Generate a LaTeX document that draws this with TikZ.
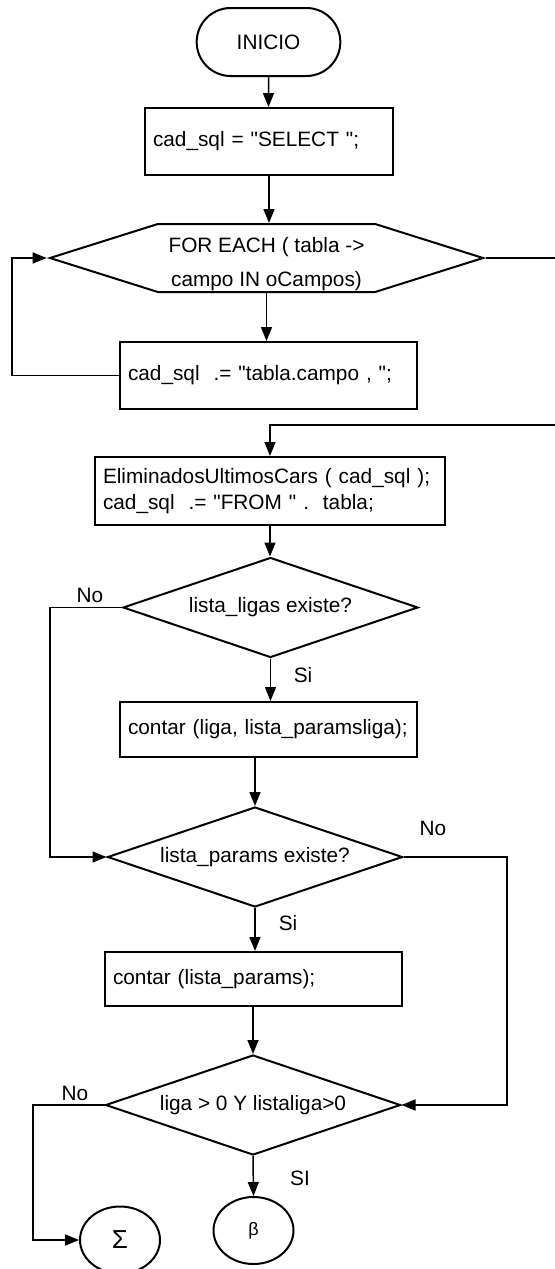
\documentclass[tikz,border=0pt]{standalone}
\usepackage{fontspec}
\newfontfamily\flujo{Liberation Sans}
\usetikzlibrary{shapes.geometric,shapes.misc,shapes.symbols,arrows.meta}

\begin{document}
\begin{tikzpicture}[x=0.5pt,y=-0.5pt,
  font=\flujo\fontsize{10.4}{13.3}\selectfont,
  shp/.style={draw, line width=1pt},
  proc/.style={shp, rectangle, inner sep=4pt, align=left},
  cond/.style={shp, diamond, aspect=2.95, inner sep=0pt, minimum width=147.5pt, minimum height=50pt},
  term/.style={shp, ellipse, inner sep=0pt, minimum width=40pt, minimum height=33.5pt},
  arr/.style={line width=0.75pt, -{Triangle[length=7pt,width=5.5pt]}},
  ln/.style={line width=0.75pt}]
  \useasboundingbox (0,0) rectangle (555,1269);

  \node[shp, rounded rectangle, minimum width=78.5pt, minimum height=34pt] (ini) at (268.5,42) {INICIO};
  \node[proc, text width=116pt, minimum height=33.5pt] (sel) at (269,141.5) {cad\_sql = "SELECT ";};
  \node[shp, signal, signal to=west and east, signal pointer angle=35, inner sep=0pt,
        minimum width=216.5pt, minimum height=34pt] (each) at (266.5,258)
        {\raisebox{-5.5pt}[0pt][0pt]{\begin{tabular}{@{}c@{}}FOR EACH ( tabla ->\\[3.5pt] campo IN oCampos)\end{tabular}}};
  \node[proc, text width=140.5pt, minimum height=33.5pt] (campo) at (268.5,375.5) {cad\_sql\ \ .= "tabla.campo , ";};
  \node[proc, text width=167pt, minimum height=34pt] (from) at (270,491)
        {EliminadosUltimosCars ( cad\_sql );\\ cad\_sql\ \ .= "FROM " .\ \ tabla;};
  \node[cond] (ligas) at (270.5,607.5) {lista\_ligas existe?};
  \node[proc, text width=140.5pt, minimum height=27.5pt] (cliga) at (268.5,729.5) {contar (liga, lista\_paramsliga);};
  \node[cond] (params) at (255,857) {lista\_params existe?};
  \node[proc, text width=140.5pt, minimum height=27pt] (cpar) at (253.5,979) {contar (lista\_params);};
  \node[cond] (mayor) at (253,1105) {liga > 0 Y listaliga>0};
  \node[term] (sigma) at (120,1240) {\fontsize{13}{13}\selectfont Σ};
  \node[term] (beta) at (253.5,1230.5) {\fontsize{9}{9}\selectfont β};

  % etiquetas
  \node (no1) at (90,595) {No};
  \node (si1) at (303,675) {Si};
  \node (no2) at (433,828) {No};
  \node (si2) at (288,923) {Si};
  \node (no3) at (75,1093) {No};
  \node (si3) at (300,1178) {SI};

  \coordinate (lpL) at (12,258);
  \coordinate (outR) at (555,258);
  \coordinate (inR) at (555,425);
  \coordinate (c1) at (50,607.5);
  \coordinate (c2) at (507,857);
  \coordinate (c3) at (33,1105);

  \draw[arr] (ini) -- (ini |- sel.north);
  \draw[arr] (sel) -- (sel |- each.north);
  \draw[arr] (each.south) -- (each.south |- campo.north);
  \draw[arr] (campo.west) -| (lpL) -- (each.west);
  \draw[ln] (each.east) -- (outR);
  \draw[arr] (inR) -| (from.north);
  \draw[arr] (from.south) -- (from.south |- ligas.north);
  \draw[arr] (ligas.west) -- (c1) |- (params.west);
  \draw[arr] (ligas.south) -- (ligas.south |- cliga.north);
  \draw[arr] (params.north |- cliga.south) -- (params.north);
  \draw[arr] (params.east) -- (c2) |- (mayor.east);
  \draw[arr] (params.south) -- (params.south |- cpar.north);
  \draw[arr] (mayor.north |- cpar.south) -- (mayor.north);
  \draw[arr] (mayor.west) -- (c3) |- (sigma.west);
  \draw[arr] (mayor.south) -- (beta.north);
\end{tikzpicture}
\end{document}
